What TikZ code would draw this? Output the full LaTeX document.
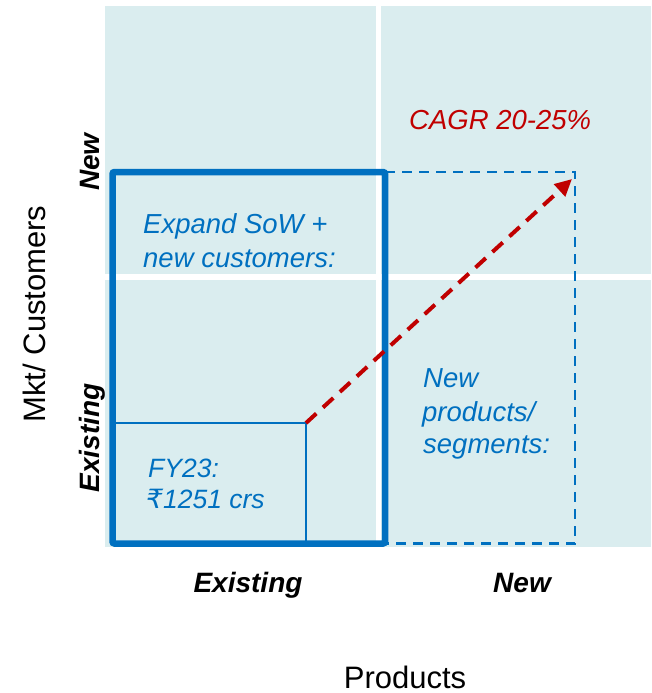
\documentclass[tikz,border=0pt]{standalone}
\usepackage{fontspec}
\setmainfont{Liberation Sans}
\newfontfamily\rupeefont{DejaVu Sans}
\usetikzlibrary{arrows.meta}
\definecolor{bgteal}{HTML}{DAEDEF}
\definecolor{mblue}{HTML}{0070C0}
\definecolor{mred}{HTML}{C00000}
\begin{document}
\begin{tikzpicture}[x=1pt,y=-1pt,
  quad/.style={fill=bgteal,draw=none},
  bluetxt/.style={anchor=base west,inner sep=0pt,text=mblue,font=\fontsize{27.5}{33}\selectfont\itshape},
  fytxt/.style={anchor=base west,inner sep=0pt,text=mblue,font=\fontsize{26.5}{32}\selectfont\itshape},
  axislbl/.style={anchor=base,inner sep=0pt,font=\fontsize{28}{34}\selectfont\bfseries\itshape},
  axistitle/.style={anchor=base,inner sep=0pt,font=\fontsize{31}{37}\selectfont},
  thickbox/.style={draw=mblue,line width=6.5pt,rounded corners=2pt},
  thinbox/.style={draw=mblue,line width=2pt},
  dashbox/.style={draw=mblue,line width=2.5pt,dash pattern=on 10pt off 7pt},
  growth/.style={draw=mred,line width=4pt,dash pattern=on 14pt off 9pt,-{Triangle[length=17pt,width=16pt]}}]
\useasboundingbox (0,0) rectangle (651,693);
% quadrants
\fill[quad] (105,6) rectangle (376,274);
\fill[quad] (381,6) rectangle (651,274);
\fill[quad] (105,280) rectangle (376,547);
\fill[quad] (381,280) rectangle (651,547);
% boxes
\coordinate (tl) at (112.5,172);
\coordinate (br) at (385,543.5);
\coordinate (fycorner) at (306,423);
\coordinate (dtr) at (575,172);
\coordinate (dbr) at (575,543.5);
\coordinate (tip) at (572,179);
\draw[thinbox] (112.5,423) rectangle (306,543.5);
\draw[dashbox] (385,172) -- (dtr) -- (dbr) -- (385,543.5);
\draw[thickbox] (tl) rectangle (br);
\draw[growth] (fycorner) -- (tip);
% texts
\node[anchor=base west,inner sep=0pt,text=mred,font=\fontsize{27.5}{33}\selectfont\itshape] (cagr) at (409,129) {CAGR 20-25\%};
\node[bluetxt] (exp1) at (143,233) {Expand SoW +};
\node[bluetxt] (exp2) at (143,267) {new customers:};
\node[bluetxt] (np1) at (423,387) {New};
\node[bluetxt] (np2) at (422,421) {products/};
\node[bluetxt] (np3) at (423,453) {segments:};
\node[fytxt] (fy1) at (148,477) {FY23:};
\node[fytxt] (fy2) at (146,508) {{\rupeefont\itshape ₹}1251 crs};
\node[axislbl] (xex) at (248,592) {Existing};
\node[axislbl] (xnew) at (522,592) {New};
\node[axislbl,rotate=90] (ynew) at (99,162) {New};
\node[axislbl,rotate=90] (yex) at (99,438) {Existing};
\node[axistitle] (xt) at (405,688) {Products};
\node[axistitle,rotate=90] (yt) at (45,314) {Mkt/ Customers};
\end{tikzpicture}
\end{document}
